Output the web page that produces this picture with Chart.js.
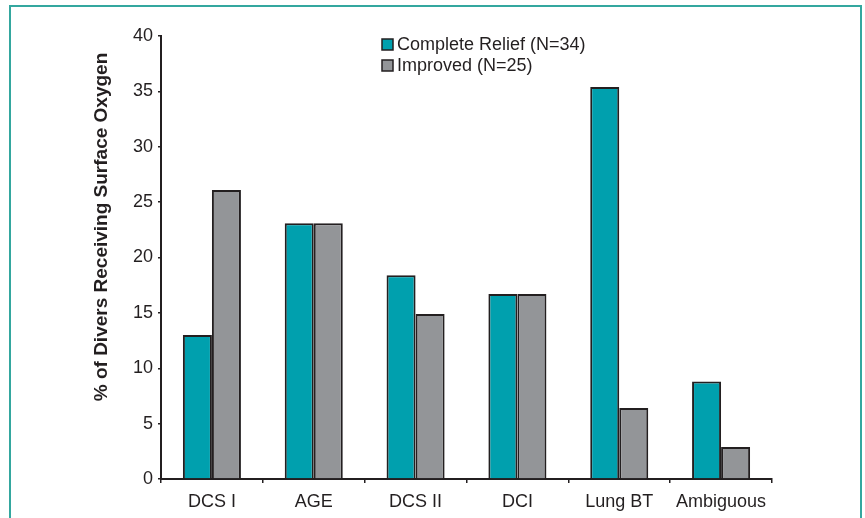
<!DOCTYPE html>
<html>
<head>
<meta charset="utf-8">
<script src="https://cdn.jsdelivr.net/npm/chart.js@4/dist/chart.umd.min.js"></script>
<style>
html,body{margin:0;padding:0;background:#fff;}
#wrap{position:relative;width:865px;height:518px;}
</style>
</head>
<body>
<div id="wrap"><canvas id="c" width="865" height="518"></canvas></div>
<script>
const categories = ["DCS I", "AGE", "DCS II", "DCI", "Lung BT", "Ambiguous"];
const completeRelief = [13.0, 23.1, 18.4, 16.7, 35.4, 8.8];
const improved = [26.1, 23.1, 14.9, 16.7, 6.4, 2.9];
const seriesLabels = ["Complete Relief (N=34)", "Improved (N=25)"];
const yTicks = [0, 5, 10, 15, 20, 25, 30, 35, 40];
const yTitle = "% of Divers Receiving Surface Oxygen";

const TEAL = "#00a0ae";
const GRAY = "#939598";
const EDGE = "#231f20";
const FONT = "'Liberation Sans', Arial, Helvetica, sans-serif";

const framePlugin = {
  id: "frame",
  beforeDraw(chart) {
    const ctx = chart.ctx;
    ctx.save();
    ctx.fillStyle = "#fff";
    ctx.fillRect(0, 0, chart.width, chart.height);
    ctx.strokeStyle = "#34a79f";
    ctx.lineWidth = 2;
    ctx.beginPath();
    ctx.moveTo(10, 518);
    ctx.lineTo(10, 6);
    ctx.lineTo(861, 6);
    ctx.lineTo(861, 518);
    ctx.stroke();
    ctx.restore();
  }
};

const titlePlugin = {
  id: "yTitle",
  afterDraw(chart) {
    const ctx = chart.ctx;
    ctx.save();
    ctx.translate(102, 227);
    ctx.rotate(-Math.PI / 2);
    ctx.font = "bold 19px " + FONT;
    ctx.fillStyle = "#231f20";
    ctx.textAlign = "center";
    ctx.textBaseline = "middle";
    ctx.fillText(yTitle, 0, 0);
    ctx.restore();
  }
};

const legendPlugin = {
  id: "customLegend",
  afterDraw(chart) {
    const ctx = chart.ctx;
    ctx.save();
    ctx.font = "18px " + FONT;
    ctx.textBaseline = "middle";
    ctx.textAlign = "left";
    chart.data.datasets.forEach((ds, i) => {
      const y = 44.5 + i * 21;
      ctx.fillStyle = ds.backgroundColor;
      ctx.fillRect(382, y - 5.5, 11, 11);
      ctx.strokeStyle = EDGE;
      ctx.lineWidth = 1.5;
      ctx.strokeRect(382, y - 5.5, 11, 11);
      ctx.fillStyle = "#231f20";
      ctx.fillText(ds.label, 397, y + 1);
    });
    ctx.restore();
  }
};

new Chart(document.getElementById("c"), {
  type: "bar",
  data: {
    labels: categories,
    datasets: [
      { label: seriesLabels[0], data: completeRelief, backgroundColor: TEAL, borderColor: EDGE, borderWidth: 2 },
      { label: seriesLabels[1], data: improved, backgroundColor: GRAY, borderColor: EDGE, borderWidth: 2 }
    ]
  },
  options: {
    responsive: false,
    animation: false,
    devicePixelRatio: 1,
    layout: { padding: { left: 88, right: 93, top: 36, bottom: 0 } },
    plugins: { legend: { display: false }, tooltip: { enabled: false } },
    datasets: { bar: { categoryPercentage: 0.57, barPercentage: 1.0 } },
    scales: {
      x: {
        offset: true,
        grid: { display: true, drawOnChartArea: false, offset: true, color: EDGE, tickLength: 4, lineWidth: 1.5 },
        border: { display: true, color: EDGE, width: 2 },
        ticks: { color: "#231f20", font: { family: FONT, size: 18 }, padding: 8, maxRotation: 0, autoSkip: false },
        afterFit(scale) { scale.height = 39; }
      },
      y: {
        min: 0, max: 40,
        afterBuildTicks(scale) { scale.ticks = yTicks.map(v => ({ value: v })); },
        grid: { display: true, drawOnChartArea: false, color: EDGE, tickLength: 3, lineWidth: 1.5 },
        border: { display: true, color: EDGE, width: 2 },
        ticks: { color: "#231f20", font: { family: FONT, size: 18 }, padding: 5 },
        title: { display: false },
        afterFit(scale) { scale.width = 73; }
      }
    }
  },
  plugins: [framePlugin, titlePlugin, legendPlugin]
});
</script>
</body>
</html>
